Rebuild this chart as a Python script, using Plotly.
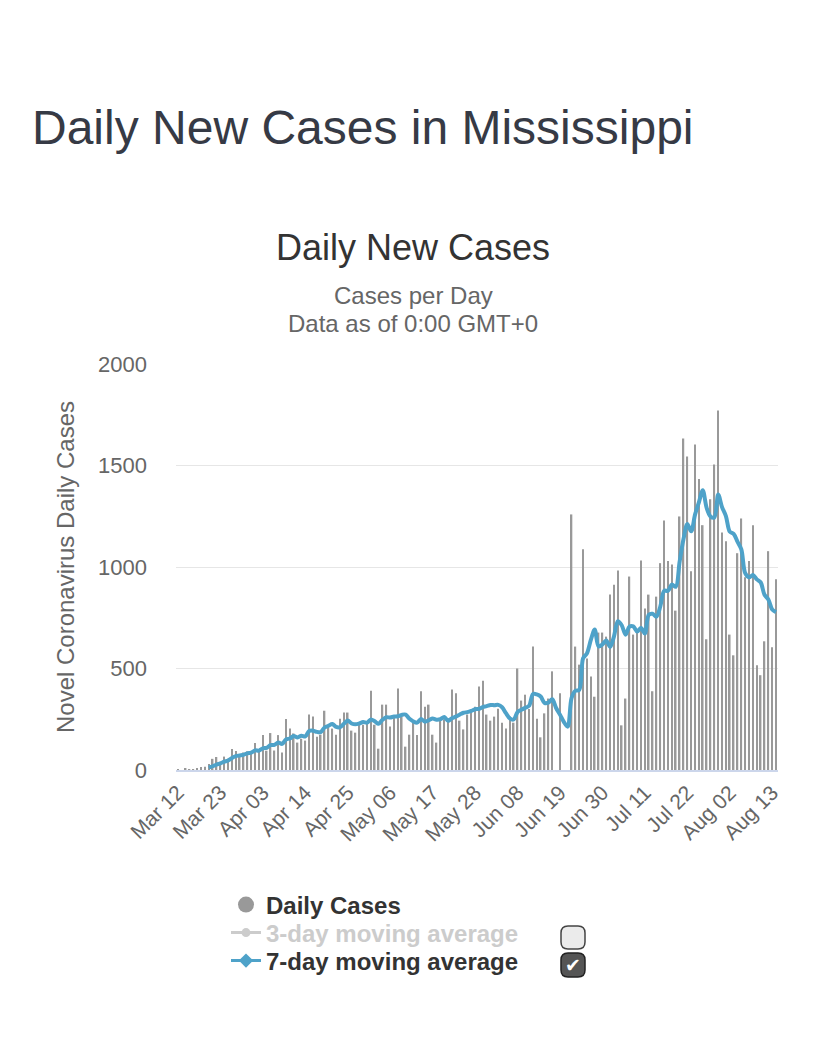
import pandas as pd
import plotly.graph_objects as go

# daily new cases, Mississippi, from Mar 12
daily_cases = [
    1, 0, 5, 4, 2, 7, 15, 16, 30, 55,
    64, 40, 66, 56, 104, 94, 78, 86, 92, 90,
    133, 96, 172, 95, 182, 96, 172, 86, 251, 205,
    180, 135, 154, 145, 273, 263, 164, 174, 292, 214,
    204, 174, 253, 283, 283, 194, 184, 233, 223, 233,
    391, 223, 105, 322, 322, 214, 265, 401, 273, 115,
    174, 233, 172, 388, 312, 322, 174, 135, 250, 250,
    255, 397, 378, 243, 200, 273, 292, 312, 411, 440,
    273, 243, 263, 302, 233, 204, 263, 233, 500, 342,
    371, 300, 608, 253, 161, 279, 352, 486, 0, 378,
    0, 0, 1259, 608, 519, 1088, 549, 460, 361, 677,
    677, 657, 864, 913, 983, 220, 352, 953, 667, 687,
    1032, 795, 864, 388, 854, 1019, 1229, 1029, 1012, 785,
    1249, 1633, 1544, 979, 1604, 1433, 1206, 644, 1334, 1505,
    1771, 1170, 1127, 667, 565, 1068, 1239, 950, 1029, 1206,
    516, 467, 634, 1078, 605, 940,
]
start_date = '2020-03-12'
tick_labels = ['Mar 12', 'Mar 23', 'Apr 03', 'Apr 14', 'Apr 25', 'May 06',
               'May 17', 'May 28', 'Jun 08', 'Jun 19', 'Jun 30', 'Jul 11',
               'Jul 22', 'Aug 02', 'Aug 13']
y_ticks = [0, 500, 1000, 1500, 2000]

dates = pd.date_range(start_date, periods=len(daily_cases), freq='D')
df = pd.DataFrame({'date': dates, 'cases': daily_cases})
df['avg7'] = df['cases'].rolling(7).mean()
df.loc[:7, 'avg7'] = None
tick_vals = [pd.Timestamp(f'{t} 2020') for t in tick_labels]

FONT = 'Liberation Sans, Arial, sans-serif'
GREY = '#999999'
BLUE = '#4ea2c9'

# page body adds an 8px offset, so the figure is shifted back by that much
OFF = 8
W, H = 828, 1057
L, R, T, B = 176, 778, 364, 770   # plot area in screen pixels


def px_x(v):
    return (v - L) / (R - L)


def px_y(v):
    return (B - v) / (B - T)


fig = go.Figure()
fig.add_trace(go.Bar(x=df['date'], y=df['cases'], marker_color=GREY,
                     marker_line_width=0, showlegend=False, name='Daily Cases'))
fig.add_trace(go.Scatter(x=df['date'], y=df['avg7'], mode='lines',
                         line=dict(color=BLUE, width=4, shape='spline', smoothing=0.9),
                         showlegend=False, name='7-day moving average'))

# legend entries, one legend per row
fig.add_trace(go.Scatter(x=[None], y=[None], mode='markers', name='<b>Daily Cases</b>',
                         legend='legend',
                         marker=dict(symbol='circle', size=16, color=GREY)))
fig.add_trace(go.Scatter(x=[None], y=[None], mode='lines+markers',
                         name='<span style="color:#cccccc"><b>3-day moving average</b></span>',
                         legend='legend2',
                         line=dict(color='#cccccc', width=3),
                         marker=dict(symbol='circle', size=9, color='#cccccc')))
fig.add_trace(go.Scatter(x=[None], y=[None], mode='lines+markers',
                         name='<b>7-day moving average</b>', legend='legend3',
                         line=dict(color=BLUE, width=3),
                         marker=dict(symbol='diamond', size=11, color=BLUE)))


def legend_row(y):
    return dict(x=px_x(226), y=px_y(y), xanchor='left', yanchor='middle',
                font=dict(size=24, color='#333333', family=FONT),
                bgcolor='rgba(0,0,0,0)', borderwidth=0)


def rounded_box(x0, y0, x1, y1, r=5):
    a0, a1 = px_x(x0), px_x(x1)
    b0, b1 = px_y(y1), px_y(y0)
    rx, ry = r / (R - L), r / (B - T)
    return (f'M {a0 + rx},{b0} L {a1 - rx},{b0} Q {a1},{b0} {a1},{b0 + ry} '
            f'L {a1},{b1 - ry} Q {a1},{b1} {a1 - rx},{b1} L {a0 + rx},{b1} '
            f'Q {a0},{b1} {a0},{b1 - ry} L {a0},{b0 + ry} Q {a0},{b0} {a0 + rx},{b0} Z')


shapes = [
    dict(type='path', xref='paper', yref='paper', path=rounded_box(561, 926, 585, 949, r=7),
         fillcolor='#ebebeb', line=dict(color='#444444', width=1.5)),
    dict(type='path', xref='paper', yref='paper', path=rounded_box(561, 953, 585, 977, r=7),
         fillcolor='#555555', line=dict(color='#222222', width=1.5)),
]

annotations = [
    dict(text='Daily New Cases', x=px_x(413), y=px_y(248), xref='paper', yref='paper',
         xanchor='center', yanchor='middle', showarrow=False,
         font=dict(size=36, color='#333333', family=FONT)),
    dict(text='Cases per Day', x=px_x(413), y=px_y(295), xref='paper', yref='paper',
         xanchor='center', yanchor='middle', showarrow=False,
         font=dict(size=24, color='#666666', family=FONT)),
    dict(text='Data as of 0:00 GMT+0', x=px_x(413), y=px_y(323), xref='paper', yref='paper',
         xanchor='center', yanchor='middle', showarrow=False,
         font=dict(size=24, color='#666666', family=FONT)),
    dict(text='✔', x=px_x(573), y=px_y(965), xref='paper', yref='paper',
         xanchor='center', yanchor='middle', showarrow=False,
         font=dict(size=19, color='#ffffff', family='DejaVu Sans')),
]

fig.update_layout(
    width=W, height=H,
    margin=dict(l=L - OFF, r=W - (R - OFF), t=T - OFF, b=H - (B - OFF), autoexpand=False),
    paper_bgcolor='white', plot_bgcolor='white',
    font=dict(family=FONT, color='#666666'),
    title=dict(text='Daily New Cases in Mississippi', xref='container', yref='container',
               x=(32 - OFF) / W, y=1 - (127 - OFF) / H, xanchor='left', yanchor='middle',
               font=dict(size=48, color='#363a45', family=FONT)),
    bargap=0.6,
    xaxis=dict(type='date', range=[dates[0] - pd.Timedelta(hours=12),
                                   dates[-1] + pd.Timedelta(hours=12)],
               tickvals=tick_vals, ticktext=tick_labels, tickangle=-45,
               tickfont=dict(size=21, color='#666666'), showgrid=False,
               showline=True, linecolor='#ccd6eb', linewidth=2, ticks='', ticklen=0),
    yaxis=dict(range=[0, 2000], tickvals=y_ticks, showgrid=True, gridcolor='#e6e6e6',
               gridwidth=1, zeroline=False, tickfont=dict(size=22, color='#666666'),
               ticklabelstandoff=28,
               title=dict(text='Novel Coronavirus Daily Cases', standoff=16,
                          font=dict(size=24, color='#666666'))),
    legend=legend_row(905),
    legend2=legend_row(933),
    legend3=legend_row(961),
    shapes=shapes,
    annotations=annotations,
)

fig.write_html('out.html')
